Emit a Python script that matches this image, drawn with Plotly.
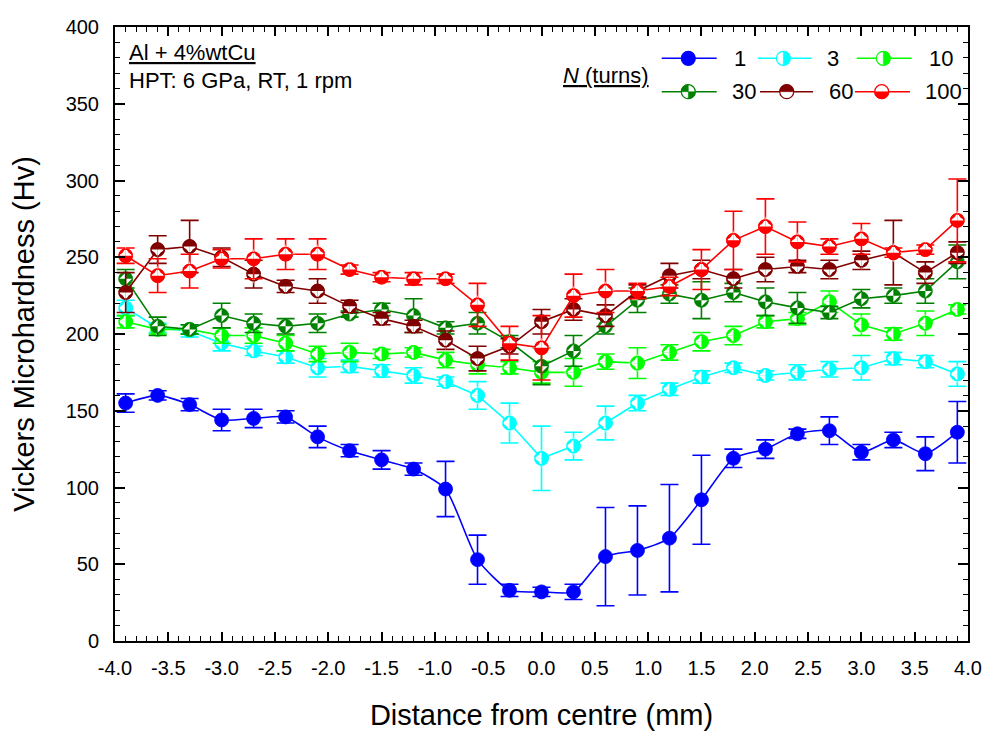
import plotly.graph_objects as go

# ---------------- data ----------------
distance_mm = [-3.9, -3.6, -3.3, -3.0, -2.7, -2.4, -2.1, -1.8, -1.5, -1.2, -0.9, -0.6, -0.3,
               0.0, 0.3, 0.6, 0.9, 1.2, 1.5, 1.8, 2.1, 2.4, 2.7, 3.0, 3.3, 3.6, 3.9]

hv_n1 = [155, 160, 154, 144, 145, 146, 133, 124, 118, 112, 99, 53, 33,
         32, 32, 55, 59, 67, 92, 119, 125, 135, 137, 123, 131, 122, 136]
err_n1 = [6, 3, 4, 7, 6, 4, 7, 4, 6, 4, 18, 16, 4,
          3, 5, 32, 29, 35, 29, 6, 6, 3, 9, 5, 5, 11, 20]

hv_n3 = [217, 204, 202, 194, 189, 185, 178, 179, 176, 173, 169, 160, 142,
         119, 127, 142, 155, 164, 172, 178, 173, 175, 177, 178, 184, 182, 174]
err_n3 = [5, 3, 4, 5, 3, 4, 6, 4, 4, 5, 3, 9, 13,
          21, 9, 11, 5, 4, 4, 3, 3, 5, 5, 8, 4, 4, 8]

hv_n10 = [208, 203, 203, 199, 199, 194, 187, 188, 187, 188, 183, 180, 178,
          175, 175, 182, 181, 188, 195, 199, 208, 210, 221, 206, 200, 207, 216]
err_n10 = [4, 3, 3, 5, 5, 5, 5, 6, 3, 3, 5, 6, 4,
           7, 9, 5, 10, 5, 6, 6, 4, 4, 7, 7, 4, 8, 3]

hv_n30 = [236, 205, 203, 212, 207, 205, 207, 213, 216, 212, 204, 207, 195,
          179, 189, 205, 222, 226, 222, 227, 221, 217, 214, 223, 225, 228, 247]
err_n30 = [6, 6, 3, 8, 6, 5, 6, 2, 4, 11, 4, 7, 4,
           12, 10, 5, 8, 6, 12, 6, 9, 10, 4, 6, 5, 8, 11]

hv_n60 = [227, 255, 257, 250, 239, 231, 228, 218, 210, 205, 196, 184, 192,
          208, 216, 212, 228, 238, 242, 236, 242, 244, 242, 248, 253, 240, 253]
err_n60 = [13, 9, 17, 6, 9, 4, 8, 4, 4, 4, 6, 8, 5,
           8, 7, 7, 4, 8, 6, 6, 8, 4, 6, 6, 21, 7, 7]

hv_n100 = [251, 238, 241, 249, 249, 252, 252, 242, 237, 236, 236, 219, 194,
           191, 225, 228, 228, 231, 242, 261, 270, 260, 257, 262, 253, 255, 274]
err_n100 = [5, 11, 11, 6, 13, 10, 10, 3, 3, 4, 3, 14, 11,
            21, 14, 14, 5, 6, 13, 19, 18, 13, 5, 10, 3, 3, 27]

series_names = ["1", "3", "10", "30", "60", "100"]
x_tick_vals = [-4.0, -3.5, -3.0, -2.5, -2.0, -1.5, -1.0, -0.5, 0.0, 0.5, 1.0, 1.5, 2.0, 2.5, 3.0, 3.5, 4.0]
x_tick_text = ["-4.0", "-3.5", "-3.0", "-2.5", "-2.0", "-1.5", "-1.0", "-0.5", "0.0",
               "0.5", "1.0", "1.5", "2.0", "2.5", "3.0", "3.5", "4.0"]

# ---------------- style ----------------
W, H = 988, 731
ML, MR, MT, MB = 115, 20, 27, 90
PW, PH = W - ML - MR, H - MT - MB
FONT = "Liberation Sans, Arial, sans-serif"
MS = 14

# white wedge angles (arrow-wide tip at the point; angle rotates the wedge)
styles = {
    "1":   dict(color="#0000FF", kind="full", wedges=[]),
    "3":   dict(color="#00FFFF", kind="half", side="right", wedges=[135, 45]),
    "10":  dict(color="#00FF00", kind="half", side="right", wedges=[135, 45]),
    "30":  dict(color="#008000", kind="quarter", wedges=[]),
    "60":  dict(color="#800000", kind="half", side="top", wedges=[45, -45]),
    "100": dict(color="#FF0000", kind="half", side="bottom", wedges=[135, -135]),
}
values = {"1": (hv_n1, err_n1), "3": (hv_n3, err_n3), "10": (hv_n10, err_n10),
          "30": (hv_n30, err_n30), "60": (hv_n60, err_n60), "100": (hv_n100, err_n100)}

fig = go.Figure()

for name in series_names:
    st = styles[name]
    c = st["color"]
    yv, ev = values[name]
    fig.add_trace(go.Scatter(
        x=distance_mm, y=yv, mode="lines+markers", name=name, showlegend=False,
        line=dict(color=c, width=1.6, shape="spline" if name == "1" else "linear", smoothing=0.6),
        marker=dict(symbol="circle", size=MS, color=c, line=dict(color=c, width=0.8)),
        error_y=dict(type="data", array=ev, visible=True, color=c, thickness=1.6, width=9),
        hoverinfo="skip",
    ))
    for ang in st["wedges"]:
        fig.add_trace(go.Scatter(
            x=distance_mm, y=yv, mode="markers", showlegend=False, hoverinfo="skip",
            marker=dict(symbol="arrow-wide", size=10.2, angle=ang, color="white", line=dict(width=0)),
        ))
    if st["kind"] == "quarter":
        fig.add_trace(go.Scatter(
            x=distance_mm, y=yv, mode="markers", showlegend=False, hoverinfo="skip",
            marker=dict(symbol="bowtie", size=9, angle=45, color="white", line=dict(width=0)),
        ))
    if st["kind"] == "half":
        fig.add_trace(go.Scatter(
            x=distance_mm, y=yv, mode="markers", showlegend=False, hoverinfo="skip",
            marker=dict(symbol="circle-open", size=MS - 1, color=c, line=dict(color=c, width=1.3)),
        ))


def px_x(px):
    return (px - ML) / PW


def px_y(py):
    return (H - MB - py) / PH


shapes = []
annotations = []

# legend entries (pixel layout)
legend_rows = [
    ("1", 661.7, 716.7, 688.3, 731.7, 58.3),
    ("3", 758.0, 811.7, 783.3, 825.0, 58.3),
    ("10", 856.7, 911.7, 883.3, 926.7, 58.3),
    ("30", 661.7, 716.7, 688.3, 730.0, 91.7),
    ("60", 760.0, 813.0, 786.7, 826.7, 91.7),
    ("100", 855.0, 910.0, 881.7, 923.0, 91.7),
]
k = 0.5523
r = 7.0


def half_path(side):
    if side == "right":
        return (f"M0,{r} C{k*r},{r} {r},{k*r} {r},0 C{r},{-k*r} {k*r},{-r} 0,{-r} Z")
    if side == "top":
        return (f"M{-r},0 C{-r},{k*r} {-k*r},{r} 0,{r} C{k*r},{r} {r},{k*r} {r},0 Z")
    return (f"M{-r},0 C{-r},{-k*r} {-k*r},{-r} 0,{-r} C{k*r},{-r} {r},{-k*r} {r},0 Z")


quarter_path = (f"M0,0 L0,{r} C{-k*r},{r} {-r},{k*r} {-r},0 Z "
                f"M0,0 L0,{-r} C{k*r},{-r} {r},{-k*r} {r},0 Z")

for name, lx0, lx1, mx, tx, ty in legend_rows:
    c = styles[name]["color"]
    shapes.append(dict(type="line", xref="paper", yref="paper", x0=px_x(lx0), x1=px_x(lx1),
                       y0=px_y(ty), y1=px_y(ty), line=dict(color=c, width=1.6)))
    kind = styles[name]["kind"]
    fillc = c if kind == "full" else "white"
    shapes.append(dict(type="circle", xref="paper", yref="paper", xsizemode="pixel", ysizemode="pixel",
                       xanchor=px_x(mx), yanchor=px_y(ty), x0=-r, x1=r, y0=-r, y1=r,
                       fillcolor=fillc, line=dict(color=c, width=1.2)))
    if kind == "half":
        shapes.append(dict(type="path", xref="paper", yref="paper", xsizemode="pixel", ysizemode="pixel",
                           xanchor=px_x(mx), yanchor=px_y(ty), path=half_path(styles[name]["side"]),
                           fillcolor=c, line=dict(color=c, width=0.5)))
    elif kind == "quarter":
        shapes.append(dict(type="path", xref="paper", yref="paper", xsizemode="pixel", ysizemode="pixel",
                           xanchor=px_x(mx), yanchor=px_y(ty), path=quarter_path,
                           fillcolor=c, line=dict(color=c, width=0.5)))
    annotations.append(dict(text=name, xref="paper", yref="paper", x=px_x(tx), y=px_y(ty),
                            xanchor="left", yanchor="middle", showarrow=False,
                            font=dict(family=FONT, size=22, color="black")))

annotations.append(dict(text="<u><i>N</i> (turns)</u>", xref="paper", yref="paper",
                        x=px_x(651), y=px_y(75), xanchor="right", yanchor="middle", showarrow=False,
                        font=dict(family=FONT, size=22, color="black")))
annotations.append(dict(text="<u>Al + 4%wtCu</u>", xref="paper", yref="paper",
                        x=px_x(127), y=px_y(52), xanchor="left", yanchor="middle", showarrow=False,
                        font=dict(family=FONT, size=22, color="black")))
annotations.append(dict(text="HPT: 6 GPa, RT, 1 rpm", xref="paper", yref="paper",
                        x=px_x(127), y=px_y(80), xanchor="left", yanchor="middle", showarrow=False,
                        font=dict(family=FONT, size=22, color="black")))

axis_common = dict(showline=True, linecolor="black", linewidth=2, mirror="ticks",
                   ticks="inside", tickcolor="black", tickwidth=1.5, showgrid=False, zeroline=False,
                   automargin=False,
                   tickfont=dict(family=FONT, size=20, color="black"))

fig.update_layout(
    width=W, height=H, margin=dict(l=ML, r=MR, t=MT, b=MB),
    paper_bgcolor="white", plot_bgcolor="white",
    showlegend=False, shapes=shapes, annotations=annotations,
    xaxis=dict(range=[-4.0, 4.0], tickvals=x_tick_vals, ticktext=x_tick_text, ticklen=9,
               minor=dict(dtick=0.1, ticklen=5, ticks="inside", tickcolor="black", tickwidth=1.2),
               ticklabelstandoff=8,
               title=dict(text="Distance from centre (mm)", font=dict(family=FONT, size=29, color="black"),
                          standoff=28),
               **axis_common),
    yaxis=dict(range=[0, 400], dtick=50, ticklen=10,
               minor=dict(dtick=10, ticklen=5, ticks="inside", tickcolor="black", tickwidth=1.2),
               ticklabelstandoff=10,
               title=dict(text="Vickers Microhardness (Hv)", font=dict(family=FONT, size=29, color="black"),
                          standoff=22),
               **axis_common),
)

fig.write_html("out.html")
